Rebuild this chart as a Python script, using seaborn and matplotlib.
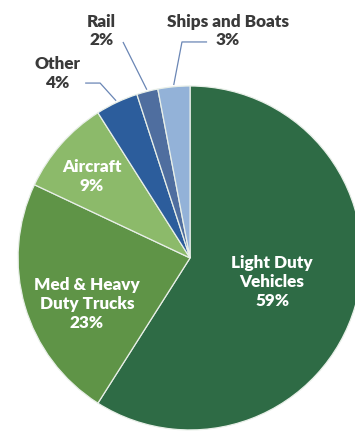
import matplotlib
matplotlib.use("Agg")
import matplotlib.pyplot as plt
import numpy as np
import seaborn as sns

sns.set_theme(style="white")
plt.rcParams['font.family'] = ['Lato', 'DejaVu Sans']

categories = ["Light Duty\nVehicles", "Med & Heavy\nDuty Trucks", "Aircraft", "Other", "Rail", "Ships and Boats"]
shares = [59, 23, 9, 4, 2, 3]
colors = ["#2e6b45", "#5f9447", "#8cba6a", "#2c5d9c", "#4f6e9f", "#93b2d8"]

fig = plt.figure(figsize=(3.55, 4.32), dpi=100)
ax = fig.add_axes([0, 0, 1, 1])
ax.pie(shares, colors=colors, startangle=90, counterclock=False, radius=1.0,
       wedgeprops=dict(edgecolor="#e8efe8", linewidth=0.9))
ax.set_xlim(-1.105, 0.959)
ax.set_ylim(-1.012, 1.500)
ax.set_aspect("equal")
ax.axis("off")

labels = [f"{c}\n{v}%" for c, v in zip(categories, shares)]
fs = 12.3
fw = "heavy"

# inner labels (white)
inner_pos = [(0.477, -0.140), (-0.599, -0.267), (-0.570, 0.474)]
for lab, (x, y) in zip(labels[:3], inner_pos):
    ax.text(x, y, lab, ha="center", va="center", color="white",
            fontsize=fs, fontweight=fw, linespacing=1.22)

# outer labels with leader lines
cum = np.cumsum([0] + shares)
mid = [(cum[i] + cum[i + 1]) / 2 for i in range(len(shares))]
outer = {
    3: dict(text=(-0.773, 1.073), start=(-0.610, 1.017), elbow=(-0.523, 1.017)),
    4: dict(text=(-0.517, 1.320), start=(-0.390, 1.256), elbow=None),
    5: dict(text=(0.221, 1.320), start=(0.099, 1.256), elbow=(-0.047, 1.256)),
}
for i, o in outer.items():
    ang = np.deg2rad(90 - mid[i] / 100 * 360)
    ex, ey = 1.01 * np.cos(ang), 1.01 * np.sin(ang)
    pts = [o["start"]] + ([o["elbow"]] if o["elbow"] else []) + [(ex, ey)]
    xs, ys = zip(*pts)
    ax.plot(xs, ys, color="#6a86b5", linewidth=0.9, solid_capstyle="butt")
    ax.text(*o["text"], labels[i], ha="center", va="center", color="#3a3a3a",
            fontsize=fs, fontweight=fw, linespacing=1.22)

fig.savefig("out.png", dpi=100)
